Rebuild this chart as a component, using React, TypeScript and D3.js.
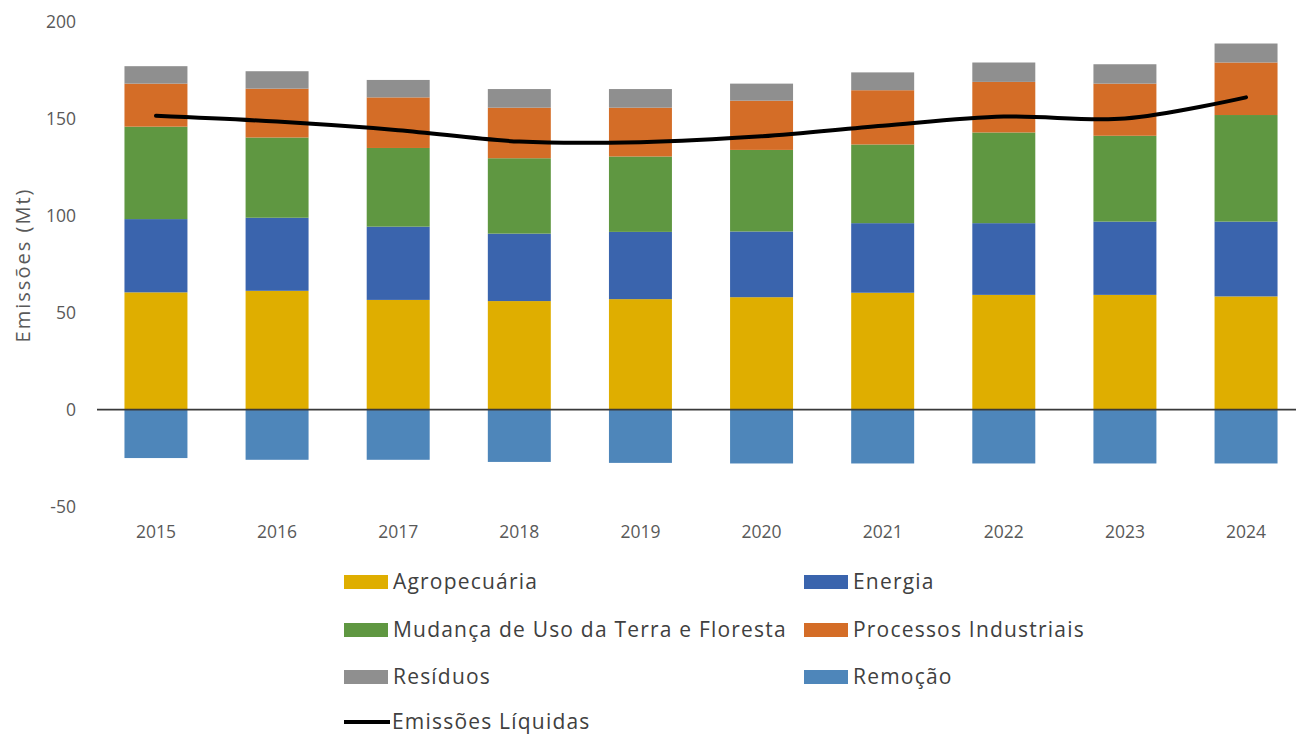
import React from 'react';
import * as d3 from 'd3';

const years = ['2015', '2016', '2017', '2018', '2019', '2020', '2021', '2022', '2023', '2024'];
const agropecuaria = [60.5, 61.3, 56.6, 56.0, 57.0, 58.0, 60.3, 59.2, 59.2, 58.4];
const energia = [37.8, 37.7, 37.8, 34.8, 34.7, 33.9, 35.9, 37.0, 37.8, 38.6];
const mudancaUso = [47.7, 41.4, 40.6, 38.9, 38.9, 42.1, 40.6, 46.8, 44.3, 55.0];
const processos = [22.2, 25.2, 26.1, 26.1, 25.2, 25.4, 28.0, 26.1, 26.9, 27.1];
const residuos = [9.0, 9.0, 9.0, 9.6, 9.6, 8.8, 9.2, 10.0, 10.0, 9.8];
const remocao = [-25.0, -25.9, -25.9, -27.0, -27.5, -27.8, -27.8, -27.8, -27.8, -27.8];
const emissoesLiquidas = [151.6, 148.6, 144.2, 138.3, 138.0, 141.0, 146.5, 151.2, 150.2, 161.1];
const yTicks = [-50, 0, 50, 100, 150, 200];

const seriesDefs = [
  { key: 'agro', name: 'Agropecuária', color: '#DFAE00', values: agropecuaria },
  { key: 'energia', name: 'Energia', color: '#3A64AD', values: energia },
  { key: 'mudanca', name: 'Mudança de Uso da Terra e Floresta', color: '#5F9741', values: mudancaUso },
  { key: 'processos', name: 'Processos Industriais', color: '#D46D27', values: processos },
  { key: 'residuos', name: 'Resíduos', color: '#8F8F8F', values: residuos },
  { key: 'remocao', name: 'Remoção', color: '#4E86BA', values: remocao },
];

const font = '"Open Sans", "Noto Sans", sans-serif';

export default function App() {
  const width = 1296;
  const height = 736;

  const x = d3.scaleBand<string>()
    .domain(years)
    .range([96, 1306])
    .paddingInner(0.48)
    .paddingOuter(0.235);

  const y = d3.scaleLinear().domain([-50, 200]).range([506.5, 22]);

  const rows = years.map((yr, i) => {
    const r: Record<string, any> = { year: yr };
    seriesDefs.forEach((s) => { r[s.key] = s.values[i]; });
    return r;
  });

  const stacked = d3.stack<any>()
    .keys(seriesDefs.map((s) => s.key))
    .offset(d3.stackOffsetDiverging)(rows);

  const line = d3.line<number>()
    .x((_, i) => (x(years[i]) as number) + x.bandwidth() / 2)
    .y((d) => y(d))
    .curve(d3.curveCatmullRom.alpha(0.5));

  // legend layout: two columns, then the line entry
  const legendRows = [582, 630, 677];
  const legendCols = [344, 804];

  return (
    <svg width={width} height={height} style={{ position: 'absolute', left: 0, top: 0, background: '#fff' }}>
      {stacked.map((layer, li) => (
        <g key={layer.key} fill={seriesDefs[li].color}>
          {layer.map((d, i) => (
            <rect
              key={years[i]}
              x={x(years[i])}
              width={x.bandwidth()}
              y={y(Math.max(d[0], d[1]))}
              height={Math.abs(y(d[0]) - y(d[1]))}
            />
          ))}
        </g>
      ))}

      <line x1={97} x2={width} y1={y(0)} y2={y(0)} stroke="#3a3a3a" strokeWidth={1.8} />

      <path d={line(emissoesLiquidas) || ''} fill="none" stroke="#000" strokeWidth={4} strokeLinecap="round" />

      {yTicks.map((t) => (
        <text key={t} x={76} y={y(t)} dy="0.35em" textAnchor="end" fontFamily={font} fontSize={17.5} fill="#595959">
          {t}
        </text>
      ))}

      {years.map((yr) => (
        <text key={yr} x={(x(yr) as number) + x.bandwidth() / 2} y={532} dy="0.35em" textAnchor="middle"
          fontFamily={font} fontSize={17.5} fill="#595959">
          {yr}
        </text>
      ))}

      <text transform={`translate(23,266) rotate(-90)`} textAnchor="middle" dy="0.35em"
        fontFamily={font} fontSize={20} fill="#595959" textLength={153} lengthAdjust="spacing">
        Emissões (Mt)
      </text>

      {seriesDefs.map((s, i) => {
        const lx = legendCols[i % 2];
        const ly = legendRows[Math.floor(i / 2)];
        return (
          <g key={s.key}>
            <rect x={lx} y={ly - 7} width={44} height={14} fill={s.color} />
            <text x={lx + 49} y={ly} dy="0.35em" fontFamily={font} fontSize={21} letterSpacing={1.2} fill="#404040">{s.name}</text>
          </g>
        );
      })}
      <g>
        <line x1={344} x2={390} y1={722} y2={722} stroke="#000" strokeWidth={4} />
        <text x={392} y={722} dy="0.35em" fontFamily={font} fontSize={21} letterSpacing={1.2} fill="#404040">Emissões Líquidas</text>
      </g>
    </svg>
  );
}
